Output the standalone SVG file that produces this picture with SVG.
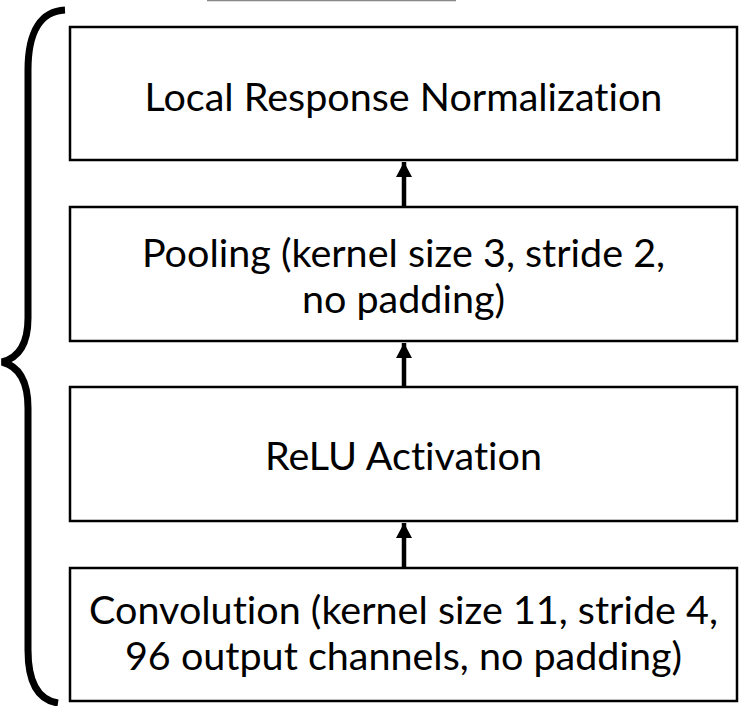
<svg xmlns="http://www.w3.org/2000/svg" width="743" height="706" viewBox="0 0 743 706">
  <style>
    .box { fill: #ffffff; stroke: #000000; stroke-width: 2.5; }
    .label { font-family: "Lato", "Liberation Sans", sans-serif; font-size: 39.5px; fill: #000000; text-anchor: middle; font-variant-ligatures: none; font-feature-settings: "liga" 0, "clig" 0; }
    .link { stroke: #000000; stroke-width: 4.5; fill: none; }
    .brace { stroke: #000000; stroke-width: 7; fill: none; stroke-linecap: butt; }
  </style>
  <defs>
    <marker id="head" viewBox="0 0 15 16" refX="15" refY="8" markerWidth="15" markerHeight="16" markerUnits="userSpaceOnUse" orient="auto">
      <path d="M0,0 L15,8 L0,16 Z" fill="#000000"/>
    </marker>
  </defs>
  <rect width="743" height="706" fill="#ffffff"/>

  <!-- thin rule along the top edge -->
  <line x1="207" y1="0.5" x2="456" y2="0.5" stroke="#888888" stroke-width="1.5"/>

  <!-- curly brace grouping the layers -->
  <path class="brace" d="M65,10 C42,11 28,30 28,70 L28,318 C28,345 18,358 2,362 C18,366 28,380 28,408 L28,650 C28,682 38,700 58,703"/>

  <g id="lrn">
    <rect class="box" x="70" y="27" width="667" height="133"/>
    <text class="label" x="403.5" y="111">Local Response Normalization</text>
  </g>

  <g id="pooling">
    <rect class="box" x="70" y="207" width="667" height="134"/>
    <text class="label" x="403.5" y="267">Pooling (kernel size 3, stride 2,</text>
    <text class="label" x="403.5" y="313">no padding)</text>
  </g>

  <g id="relu">
    <rect class="box" x="70" y="387" width="667" height="134"/>
    <text class="label" x="403.5" y="470">ReLU Activation</text>
  </g>

  <g id="conv">
    <rect class="box" x="70" y="568" width="667" height="133"/>
    <text class="label" x="403.5" y="624">Convolution (kernel size 11, stride 4,</text>
    <text class="label" x="403.5" y="670">96 output channels, no padding)</text>
  </g>

  <g id="connectors">
    <line class="link" x1="404" y1="206" x2="404" y2="162" marker-end="url(#head)"/>
    <line class="link" x1="404" y1="386" x2="404" y2="343" marker-end="url(#head)"/>
    <line class="link" x1="404" y1="567" x2="404" y2="523" marker-end="url(#head)"/>
  </g>
</svg>
